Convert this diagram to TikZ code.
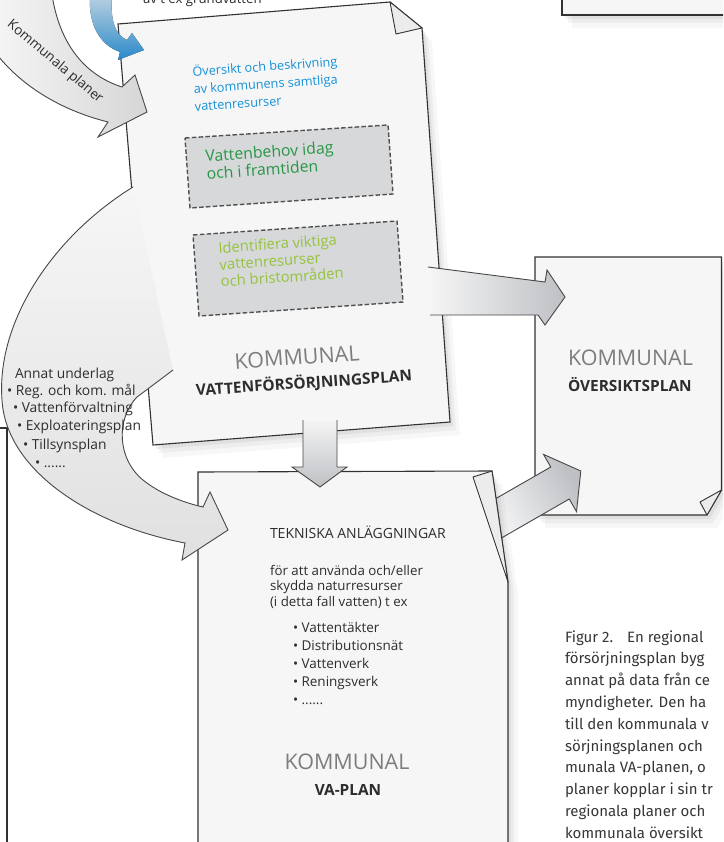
\documentclass[tikz,border=0pt]{standalone}
\usepackage{fontspec}
\setmainfont{Open Sans}
\newfontfamily\capfont{Fira Sans}
\usetikzlibrary{shadows,calc}
\definecolor{pagefill}{RGB}{246,246,246}
\definecolor{edge}{RGB}{50,50,50}
\definecolor{kgray}{RGB}{125,125,125}
\definecolor{dark}{RGB}{45,45,45}
\definecolor{oblue}{RGB}{20,145,215}
\definecolor{vgreen}{RGB}{40,150,70}
\definecolor{lgreen}{RGB}{150,195,60}
\definecolor{boxfill}{RGB}{214,216,218}
\definecolor{arrowgray}{RGB}{190,192,196}
\definecolor{bluea}{RGB}{205,230,248}
\definecolor{blueb}{RGB}{45,150,220}
\definecolor{captext}{RGB}{55,55,55}
\tikzset{
 pageshape/.style={fill=pagefill, draw=edge, line width=1.1pt, line join=miter,
   general shadow={fill=black, opacity=.05, shadow xshift=3pt, shadow yshift=-4pt},
   general shadow={fill=black, opacity=.04, shadow xshift=6pt, shadow yshift=-8pt},
   general shadow={fill=black, opacity=.03, shadow xshift=10pt, shadow yshift=-13pt}},
 flapshape/.style={fill=white!85!gray, draw=edge, line width=0.9pt, line join=round},
 arrowline/.style={draw=edge!90, line width=0.9pt, line join=miter},
 dashbox/.style={fill=boxfill, draw=edge!85, line width=1.4pt, dash pattern=on 4.5pt off 2.3pt},
 txt/.style={inner sep=0pt, outer sep=0pt},
 kom/.style={txt, text=kgray, font=\fontsize{21.5}{24}\selectfont},
 plan/.style={txt, text=dark, font=\bfseries\fontsize{15.4}{17}\selectfont},
 body/.style={txt, text=dark, font=\fontsize{13.3}{15.5}\selectfont, align=left},
 listtxt/.style={txt, text=dark, font=\fontsize{13.8}{16}\selectfont, anchor=west},
 captxt/.style={txt, text=captext, font=\capfont\fontsize{15}{17}\selectfont, anchor=base west},
}
\begin{document}
\begin{tikzpicture}[x=1pt,y=-1pt]
\useasboundingbox (0,0) rectangle (723,842);
\fill[white] (0,0) rectangle (723,842);
\clip (0,0) rectangle (723,842);

% top right box (partly visible)
\draw[pageshape] (562,-30) -- (562,15) -- (745,15) -- (745,-30) -- cycle;

% left partial box
\draw[edge, line width=1.1pt] (-5,428) -- (7,428) -- (7,860);

% OP page
\draw[pageshape] (535,257) -- (721.5,257) -- (721.5,490) -- (707,515) -- (535,515) -- cycle;
\draw[flapshape] (721.5,490) -- (707,515) -- (700,502) -- cycle;

% arrow VA -> OP
\path[left color=white, right color=arrowgray, shading angle=120]
  (470.75,513) -- (550.75,467) -- (543.5,454.4) -- (580.8,471) -- (576.5,511.6) -- (569.25,499) -- (489.25,545) -- cycle;
\draw[arrowline] (470.75,513) -- (550.75,467) -- (543.5,454.4) -- (580.8,471) -- (576.5,511.6) -- (569.25,499) -- (489.25,545);

% VA page
\draw[pageshape] (198,472) -- (492,471) -- (508,582) -- (508,870) -- (198,870) -- cycle;
\draw[flapshape] (473,477) -- (492,471) -- (508,582) -- cycle;

% Page 1
\draw[pageshape] (118,24) -- (390,2) -- (422,28) -- (450,422) -- (153,445) -- cycle;
\draw[flapshape] (390,2) -- (422,28) -- (396,34) -- cycle;

% dashed boxes
\draw[dashbox] (185,138) -- (388,125) -- (393,194) -- (190,208) -- cycle;
\draw[dashbox] (193,235) -- (397,221) -- (403,302) -- (199,316) -- cycle;

% down arrow
\path[top color=white!92!gray, bottom color=arrowgray]
  (303,420) -- (303,467) -- (292,467) -- (320,487) -- (347,467) -- (337,467) -- (337,420) -- cycle;
\draw[arrowline] (303,420) -- (303,467) -- (292,467) -- (320,487) -- (347,467) -- (337,467) -- (337,420);

% right arrow page1 -> OP
\path[left color=pagefill, right color=arrowgray]
  (428,267) -- (545,282) -- (547,270) -- (565,297) -- (545,325) -- (538,315) -- (430,315) -- cycle;
\draw[arrowline] (428,267) -- (545,282) -- (547,270) -- (565,297) -- (545,325) -- (538,315) -- (430,315);

% Kommunala planer arrow
\path[left color=gray!8, right color=gray!32]
  (52,-5) .. controls (60,45) and (85,75) .. (122,87) -- (135,75) -- (147,112) -- (98,137) -- (108,122)
  .. controls (60,110) and (20,85) .. (-5,52) -- (-5,-5) -- cycle;
\draw[arrowline] (52,-5) .. controls (60,45) and (85,75) .. (122,87) -- (135,75) -- (147,112) -- (98,137) -- (108,122)
  .. controls (60,110) and (20,85) .. (-5,52);

% blue arrow
\fill[top color=bluea, bottom color=blueb, opacity=.9]
  (90,-5) .. controls (88,25) and (100,45) .. (120,52) -- (118,60) -- (144,50) -- (132,33) -- (127,40)
  .. controls (115,35) and (110,20) .. (112,-5) -- cycle;

% left arc arrow (Annat underlag)
\path[top color=pagefill, bottom color=gray!24]
  (133,187) .. controls (55,235) and (-4,320) .. (2,400) .. controls (6,470) and (90,525) .. (185,543)
  -- (182,560) -- (228,530) -- (210,492) -- (203,507)
  .. controls (185,503) and (160,494) .. (143,480) .. controls (118,460) and (115,420) .. (137,397)
  -- (173,370) -- cycle;
\draw[arrowline] (133,187) .. controls (55,235) and (-4,320) .. (2,400) .. controls (6,470) and (90,525) .. (185,543)
  -- (182,560) -- (228,530) -- (210,492) -- (203,507)
  .. controls (185,503) and (160,494) .. (143,480) .. controls (118,460) and (115,420) .. (137,397)
  -- (173,370);

% ---- texts ----
\node[txt, anchor=base west, text=dark, font=\fontsize{13.2}{15}\selectfont] (grund) at (143,4) {av t ex grundvatten};
\node[txt, text=dark, font=\fontsize{13.5}{15}\selectfont, rotate=-40] (kplan) at (55,62) {Kommunala planer};

\node[txt, anchor=north west, rotate=4, text=oblue, font=\fontsize{12.7}{17.5}\selectfont, align=left] (oversikt) at (192,65)
  {Översikt och beskrivning\\av kommunens samtliga\\vattenresurser};
\node[txt, anchor=north west, rotate=4, text=vgreen, font=\fontsize{15.8}{17.5}\selectfont, align=left] (behov) at (205,150)
  {Vattenbehov idag\\och i framtiden};
\node[txt, anchor=north west, rotate=4, text=lgreen, font=\fontsize{14.8}{16.8}\selectfont, align=left] (ident) at (218,242)
  {Identifiera viktiga\\vattenresurser\\och bristområden};
\node[kom, rotate=4] (kom1) at (297,357) {KOMMUNAL};
\node[plan, rotate=4] (vfp) at (304,383) {VATTENFÖRSÖRJNINGSPLAN};

\node[kom, anchor=west] (kom2) at (568,358) {KOMMUNAL};
\node[plan, anchor=west] (op) at (568,385) {ÖVERSIKTSPLAN};

\node[txt, anchor=west, text=dark, font=\fontsize{14}{15}\selectfont] (tekn) at (270,532) {TEKNISKA ANLÄGGNINGAR};
\node[body, anchor=north west] (foratt) at (270,565) {för att använda och/eller\\skydda naturresurser\\(i detta fall vatten) t ex};
\node[body, anchor=north west, font=\fontsize{13.5}{18}\selectfont] (bul) at (293,622)
  {• Vattentäkter\\• Distributionsnät\\• Vattenverk\\• Reningsverk\\• ......};
\node[kom] (kom3) at (347,762) {KOMMUNAL};
\node[plan] (vap) at (348,790) {VA-PLAN};

\node[listtxt] (l1) at (15,375) {Annat underlag};
\node[listtxt] (l2) at (7,392) {• Reg. och kom. mål};
\node[listtxt] (l3) at (13,409) {• Vattenförvaltning};
\node[listtxt] (l4) at (17,427) {• Exploateringsplan};
\node[listtxt] (l5) at (23,446) {• Tillsynsplan};
\node[listtxt] (l6) at (35,464) {• ......};

\node[captxt] (c1) at (565,642) {Figur 2.\hspace{14pt}En regional};
\node[captxt] (c2) at (565,663.8) {försörjningsplan byg};
\node[captxt] (c3) at (565,685.6) {annat på data från ce};
\node[captxt] (c4) at (565,707.4) {myndigheter. Den ha};
\node[captxt] (c5) at (565,729.2) {till den kommunala v};
\node[captxt] (c6) at (565,751) {sörjningsplanen och};
\node[captxt] (c7) at (565,772.8) {munala VA-planen, o};
\node[captxt] (c8) at (565,794.6) {planer kopplar i sin tr};
\node[captxt] (c9) at (565,816.4) {regionala planer och};
\node[captxt] (c10) at (565,838.2) {kommunala översikt};
\end{tikzpicture}
\end{document}
